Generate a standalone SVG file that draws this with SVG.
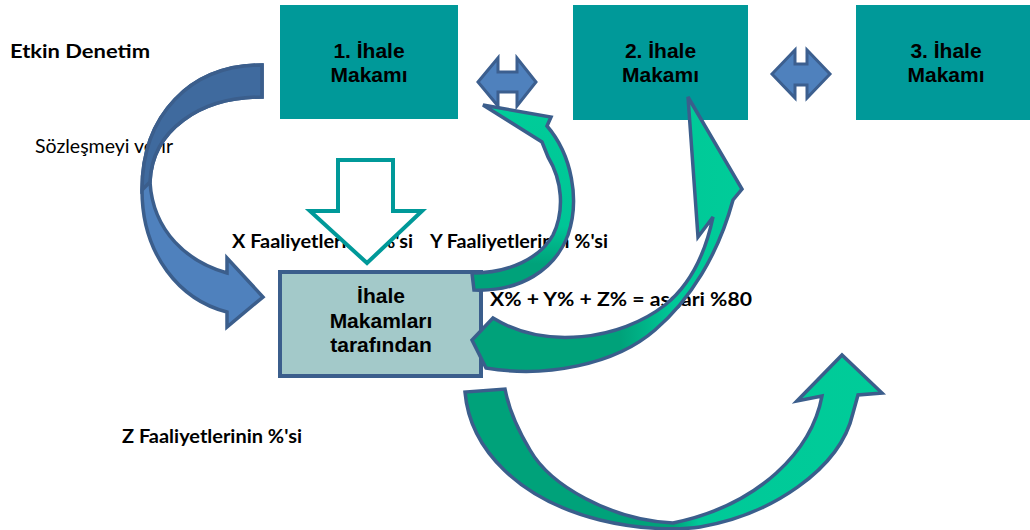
<svg xmlns="http://www.w3.org/2000/svg" width="1030" height="530" viewBox="0 0 1030 530">
<style>
.box{fill:#009999;}
.bt{font-family:"Liberation Sans",Arial,sans-serif;font-weight:bold;font-size:21px;fill:#000;text-anchor:middle;}
.lbl{font-family:Lato,"Liberation Sans",sans-serif;font-weight:bold;font-size:19px;fill:#000;}
.reg{font-family:Lato,"Liberation Sans",sans-serif;font-size:18.5px;fill:#000;}
.dbl{fill:#4f81bd;stroke:#3c5f8f;stroke-width:3;stroke-linejoin:miter;}
.edge{stroke:#3b5e8c;stroke-width:3.5;stroke-linejoin:miter;}
</style>
<defs>
<linearGradient id="gBot" gradientUnits="userSpaceOnUse" x1="465" y1="0" x2="882" y2="0">
<stop offset="0" stop-color="#00a27a"/><stop offset="0.5" stop-color="#00a27a"/><stop offset="0.56" stop-color="#00c998"/><stop offset="1" stop-color="#00cc99"/>
</linearGradient>
<linearGradient id="gMid" gradientUnits="userSpaceOnUse" x1="472" y1="0" x2="742" y2="0">
<stop offset="0" stop-color="#00a27a"/><stop offset="0.55" stop-color="#00a27a"/><stop offset="0.75" stop-color="#00c998"/><stop offset="1" stop-color="#00cc99"/>
</linearGradient>
<linearGradient id="gLoop" gradientUnits="userSpaceOnUse" x1="0" y1="105" x2="0" y2="292">
<stop offset="0" stop-color="#00cc99"/><stop offset="0.65" stop-color="#00c596"/><stop offset="0.85" stop-color="#00a27a"/><stop offset="1" stop-color="#00a27a"/>
</linearGradient>
</defs>

<g id="labels">
<text class="lbl" x="10" y="58" font-size="21" textLength="140" lengthAdjust="spacingAndGlyphs">Etkin Denetim</text>
<text class="reg" x="35" y="153" textLength="138" lengthAdjust="spacingAndGlyphs">Sözleşmeyi verir</text>
<text class="lbl" x="232" y="248" textLength="181" lengthAdjust="spacingAndGlyphs">X Faaliyetlerinin %'si</text>
<text class="lbl" x="430" y="248" textLength="178" lengthAdjust="spacingAndGlyphs">Y Faaliyetlerinin %'si</text>
<text class="lbl" x="122" y="443" textLength="180" lengthAdjust="spacingAndGlyphs">Z Faaliyetlerinin %'si</text>
<text class="lbl" x="490" y="306" font-size="20" textLength="262" lengthAdjust="spacingAndGlyphs">X% + Y% + Z% = asgari %80</text>
</g>

<g id="node-1">
<rect class="box" x="280" y="5" width="178" height="114"/>
<text class="bt" x="369" y="58">1. İhale</text>
<text class="bt" x="369" y="82">Makamı</text>
</g>
<g id="node-2">
<rect class="box" x="573" y="5" width="175" height="115"/>
<text class="bt" x="660.5" y="58">2. İhale</text>
<text class="bt" x="660.5" y="82">Makamı</text>
</g>
<g id="node-3">
<rect class="box" x="856" y="5" width="180" height="115"/>
<text class="bt" x="946" y="58">3. İhale</text>
<text class="bt" x="946" y="82">Makamı</text>
</g>
<g id="node-center">
<rect x="280" y="272" width="201" height="104" fill="#a3c9c9" stroke="#3b5e8c" stroke-width="4"/>
<text class="bt" x="381" y="303">İhale</text>
<text class="bt" x="381" y="328">Makamları</text>
<text class="bt" x="381" y="352">tarafından</text>
</g>

<g id="connectors">
<!-- left blue curved arrow -->
<path class="edge" fill="#4f81bd" d="M262,65 C190,65 142,115 142,190 C142,255 180,300 227,312 L227,327 L263,297 L227,258 L227,273 C188,262 153,232 150,182 C152,130 200,97 262,97 Z"/>
<path class="edge" fill="#3f6a9e" d="M262,65 C190,65 142,115 142,190 L150,182 C152,130 200,97 262,97 Z"/>
<!-- down outline arrow -->
<path fill="#fff" stroke="#009999" stroke-width="4" stroke-linejoin="miter" d="M338,160 L393,160 L393,211 L422,211 L367,263 L310,211 L338,211 Z"/>
<!-- double arrows -->
<path class="dbl" d="M478,82 L498,58 L498,72 L517,72 L517,58 L536,82 L517,106 L517,92 L498,92 L498,106 Z"/>
<path class="dbl" d="M772,74 L795,50 L795,64 L807,64 L807,50 L830,74 L807,98 L807,85 L795,85 L795,98 Z"/>
<!-- green loop to double arrow -->
<path class="edge" fill="url(#gLoop)" d="M483,105 L551,117 L547,126 C572,155 580,200 568,235 C555,270 520,292 474,290 L472,273 C510,273 540,258 553,235 C565,210 562,180 548,157 L542,142 Z"/>
<!-- middle green arrow to node 2 -->
<path class="edge" fill="url(#gMid)" d="M493,318 L472,340 L486,368 C545,378 615,365 655,330 C690,300 718,255 733,200 L742,189 L688,97 L698,237 L713,217 C705,255 690,285 665,305 C620,340 545,350 493,318 Z"/>
<!-- bottom green arrow to node 3 -->
<path class="edge" fill="url(#gBot)" d="M465,392 C470,450 520,500 600,520 C640,530 680,530 700,527 C770,515 840,470 853,413 L858,395 L882,393 L842,355 L797,401 L822,396 C812,450 760,505 673,523 C610,520 550,485 530,450 C515,425 508,405 505,389 Z"/>
</g>
</svg>
